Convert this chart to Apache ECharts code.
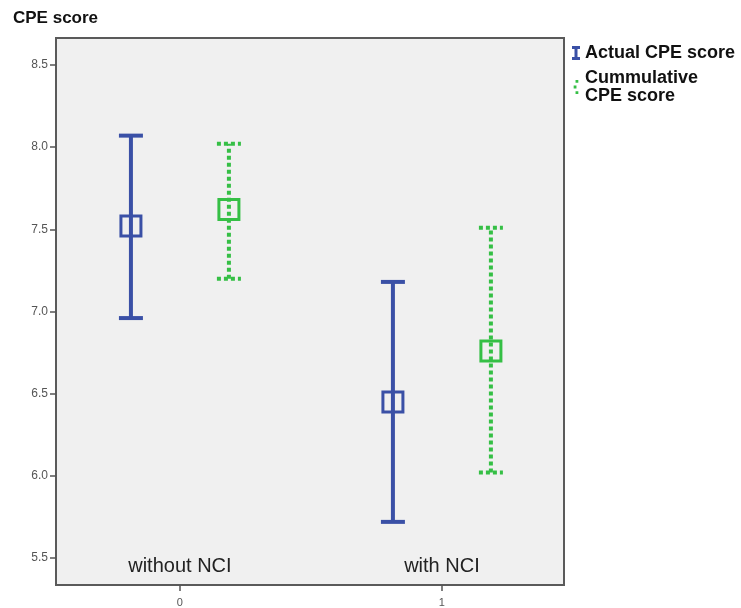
<!DOCTYPE html>
<html>
<head>
<meta charset="utf-8">
<script src="https://cdn.jsdelivr.net/npm/echarts@6/dist/echarts.min.js"></script>
<style>
  html, body { margin: 0; padding: 0; background: #fff; }
  #chart { width: 741px; height: 608px; }
</style>
</head>
<body>
<div id="chart"></div>
<script>
// group names shown inside the plot, and the numeric ticks under it
var groups = ['without NCI', 'with NCI'];
var xTicks = [0, 1];
var yTicks = [5.5, 6.0, 6.5, 7.0, 7.5, 8.0, 8.5];

// Actual CPE score: mean and interval per group
var actualMean = [7.52, 6.45];
var actualLow = [6.96, 5.72];
var actualHigh = [8.07, 7.18];

// Cummulative CPE score
var cumMean = [7.62, 6.76];
var cumLow = [7.20, 6.02];
var cumHigh = [8.02, 7.51];

var blue = '#3a50a6';
var green = '#35bf45';
var shift = 0.187;

function errorBars(name, low, high, off, color, dash) {
	return {
		name: name,
		type: 'custom',
		xAxisIndex: 0,
		data: low.map(function (v, i) { return [i, v, high[i]]; }),
		renderItem: function (params, api) {
			var x = api.value(0) + off;
			var lo = api.coord([x, api.value(1)]);
			var hi = api.coord([x, api.value(2)]);
			var st = { stroke: color, lineWidth: 4, lineDash: dash, lineCap: 'butt' };
			return {
				type: 'group',
				children: [
					{ type: 'line', shape: { x1: lo[0], y1: lo[1], x2: hi[0], y2: hi[1] }, style: st },
					{ type: 'line', shape: { x1: hi[0] - 12, y1: hi[1], x2: hi[0] + 12, y2: hi[1] }, style: st },
					{ type: 'line', shape: { x1: lo[0] - 12, y1: lo[1], x2: lo[0] + 12, y2: lo[1] }, style: st }
				]
			};
		}
	};
}

function means(name, vals, off, color) {
	return {
		name: name,
		type: 'scatter',
		xAxisIndex: 0,
		symbol: 'rect',
		symbolSize: [20, 20],
		itemStyle: { color: 'rgba(0,0,0,0)', borderColor: color, borderWidth: 3, opacity: 1 },
		emphasis: { disabled: true },
		data: vals.map(function (v, i) { return [i + off, v]; }),
		z: 3
	};
}

var myChart = echarts.init(document.getElementById('chart'));

var option = {
	animation: false,
	title: {
		text: 'CPE score',
		left: 8,
		top: 5,
		textStyle: { fontFamily: 'Liberation Sans', fontSize: 17, fontWeight: 'bold', color: '#111' }
	},
	legend: {
		orient: 'vertical',
		left: 567,
		top: 39,
		itemWidth: 8,
		itemHeight: 14,
		itemGap: 7,
		selectedMode: false,
		textStyle: { fontFamily: 'Liberation Sans', fontSize: 18, fontWeight: 'bold', color: '#111', lineHeight: 18 },
		formatter: function (n) { return n === 'Cummulative CPE score' ? 'Cummulative\nCPE score' : n; },
		data: [
			{ name: 'Actual CPE score', icon: 'path://M0,0H8V3H5.5V11H8V14H0V11H2.5V3H0Z', itemStyle: { color: blue } },
			{ name: 'Cummulative CPE score', icon: 'path://M3,0h3v3h-3zM1,6h3v3h-3zM3,12h3v3h-3z', itemStyle: { color: green } }
		]
	},
	grid: {
		left: 56, top: 38, width: 508, height: 548,
		show: true,
		backgroundColor: '#f0f0f0',
		borderColor: '#5a5a5a',
		borderWidth: 2
	},
	xAxis: [{
		type: 'value',
		min: -0.473,
		max: 1.466,
		axisLine: { show: false, onZero: false },
		splitLine: { show: false },
		axisTick: { show: true, customValues: xTicks, length: 6, lineStyle: { color: '#555', width: 1.5 } },
		axisLabel: { customValues: xTicks, color: '#555', fontSize: 11, fontFamily: 'Liberation Sans', margin: 12 }
	}, {
		type: 'value',
		position: 'bottom',
		min: -0.473,
		max: 1.466,
		axisLine: { show: false, onZero: false },
		splitLine: { show: false },
		axisTick: { show: false },
		axisLabel: {
			inside: true,
			customValues: xTicks,
			margin: 9,
			color: '#222',
			fontSize: 20,
			fontFamily: 'Liberation Sans',
			formatter: function (v) { return groups[Math.round(v)]; }
		}
	}],
	yAxis: {
		type: 'value',
		min: 5.336,
		max: 8.664,
		axisLine: { show: false, onZero: false },
		splitLine: { show: false },
		axisTick: { show: true, customValues: yTicks, length: 6, lineStyle: { color: '#555', width: 1.5 } },
		axisLabel: {
			customValues: yTicks,
			color: '#555',
			fontSize: 12,
			fontFamily: 'Liberation Sans',
			margin: 8,
			formatter: function (v) { return v.toFixed(1); }
		}
	},
	series: [
		errorBars('Actual CPE score', actualLow, actualHigh, -shift, blue, null),
		means('Actual CPE score', actualMean, -shift, blue),
		errorBars('Cummulative CPE score', cumLow, cumHigh, shift, green, [4, 3]),
		means('Cummulative CPE score', cumMean, shift, green)
	]
};

myChart.setOption(option, true);
</script>
</body>
</html>
